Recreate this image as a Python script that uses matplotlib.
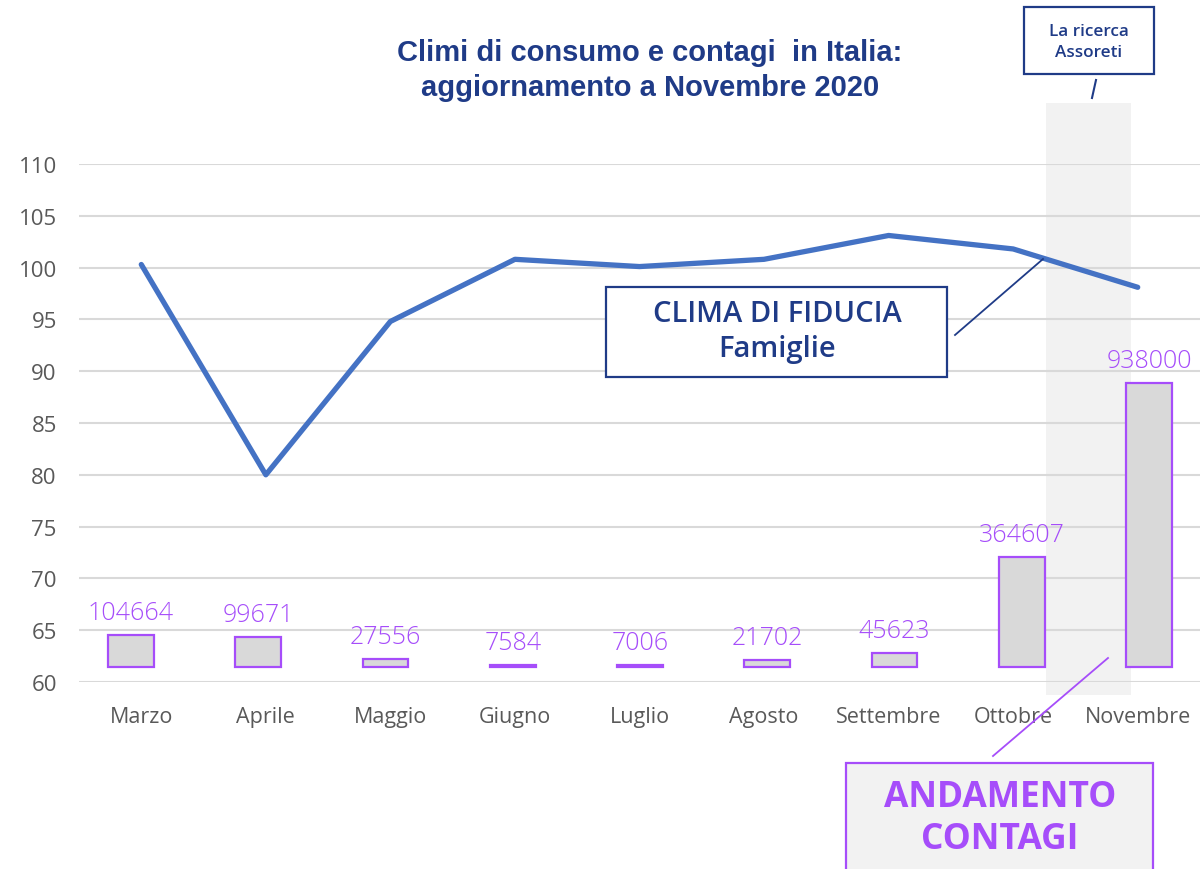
import matplotlib
matplotlib.use('Agg')
import matplotlib.pyplot as plt
from matplotlib.patches import Rectangle
from matplotlib.lines import Line2D
import matplotlib.transforms as mtransforms

# ---- data ----
months = ['Marzo', 'Aprile', 'Maggio', 'Giugno', 'Luglio', 'Agosto',
          'Settembre', 'Ottobre', 'Novembre']
fiducia = [100.3, 80.0, 94.8, 100.8, 100.1, 100.8, 103.1, 101.8, 98.1]
contagi = [104664, 99671, 27556, 7584, 7006, 21702, 45623, 364607, 938000]
y_ticks = [60, 65, 70, 75, 80, 85, 90, 95, 100, 105, 110]

title_lines = ['Climi di consumo e contagi  in Italia:', 'aggiornamento a Novembre 2020']

# ---- styles ----
W, H = 1203, 870
dark_blue = '#1F3B87'
line_blue = '#4472C4'
purple = '#A64DFA'
grey_txt = '#595959'
grid_c = '#D9D9D9'
font = 'Open Sans'

fig = plt.figure(figsize=(W / 100, H / 100), dpi=100)
px = mtransforms.Affine2D().scale(1 / W, -1 / H).translate(0, 1) + fig.transFigure

# background band behind Novembre
fig.patches.append(Rectangle((1046, 104), 85, 592, transform=px,
                             facecolor='#F2F2F2', edgecolor='none', zorder=-1))

left, right, top, bottom = 79, 1200, 165, 683
pos = [left / W, 1 - bottom / H, (right - left) / W, (bottom - top) / H]

ax = fig.add_axes(pos)
ax.set_facecolor('none')
x = list(range(len(months)))
ax.plot(x, fiducia, color=line_blue, lw=3.8, solid_capstyle='round',
        solid_joinstyle='round', zorder=3)
ax.set_xlim(-0.5, len(months) - 0.5)
ax.set_ylim(60, 110)
ax.set_yticks(y_ticks)
ax.set_xticks(x)
ax.set_xticklabels(months)
ax.grid(axis='y', color=grid_c, lw=1.5)
ax.set_axisbelow(True)
for s in ax.spines.values():
    s.set_visible(False)
ax.tick_params(axis='both', length=0, colors=grey_txt)
ax.tick_params(axis='y', pad=16, labelsize=16)
ax.tick_params(axis='x', pad=17, labelsize=15.5)
for lab in ax.get_xticklabels() + ax.get_yticklabels():
    lab.set_fontfamily('Open Sans')

# bars on overlay axes
ax2 = fig.add_axes(pos)
ax2.set_facecolor('none')
ax2.axis('off')
ax2.set_xlim(-0.4086, 8.4008)
ax2.set_ylim(-49544, 1661357)
ax2.bar(x, contagi, width=0.36, color='#D9D9D9', edgecolor=purple, linewidth=1.6)
for i, v in enumerate(contagi):
    ax2.annotate(f'{v}', (i, v), xytext=(0, 11.5), textcoords='offset points',
                 ha='center', va='baseline', color=purple, fontsize=18,
                 fontfamily=font, fontweight='light')

# title
fig.text(650 / W, 1 - 53 / H, title_lines[0], ha='center', va='center',
         fontsize=21, fontweight='bold', color=dark_blue, fontfamily='Liberation Sans')
fig.text(650 / W, 1 - 88 / H, title_lines[1], ha='center', va='center',
         fontsize=21, fontweight='bold', color=dark_blue, fontfamily='Liberation Sans')

# La ricerca Assoreti box
fig.patches.append(Rectangle((1024, 8), 130, 67, transform=px, facecolor='white',
                             edgecolor=dark_blue, lw=1.6))
fig.text(1089 / W, 1 - 32 / H, 'La ricerca', ha='center', va='center',
         fontsize=12.3, color=dark_blue, fontfamily=font, fontweight='semibold')
fig.text(1089 / W, 1 - 53 / H, 'Assoreti', ha='center', va='center',
         fontsize=12.3, color=dark_blue, fontfamily=font, fontweight='semibold')
fig.lines.append(Line2D([1096, 1092], [81, 99], transform=px, color=dark_blue, lw=1.5))

# CLIMA DI FIDUCIA box
fig.patches.append(Rectangle((606, 288), 341, 90, transform=px, facecolor='white',
                             edgecolor=dark_blue, lw=1.6, zorder=5))
fig.text(777 / W, 1 - 315 / H, 'CLIMA DI FIDUCIA', ha='center', va='center',
         fontsize=21, color=dark_blue, fontfamily=font, fontweight='semibold', zorder=6)
fig.text(777 / W, 1 - 349 / H, 'Famiglie', ha='center', va='center',
         fontsize=21, color=dark_blue, fontfamily=font, fontweight='semibold', zorder=6)
fig.lines.append(Line2D([955, 1043], [336, 260], transform=px, color=dark_blue, lw=1.3, zorder=6))

# ANDAMENTO CONTAGI box
fig.patches.append(Rectangle((846, 764), 307, 130, transform=px, facecolor='#F2F2F2',
                             edgecolor=purple, lw=1.6, zorder=5))
fig.text(1000 / W, 1 - 798 / H, 'ANDAMENTO', ha='center', va='center',
         fontsize=25.5, color=purple, fontfamily=font, fontweight='bold', zorder=6)
fig.text(1000 / W, 1 - 840 / H, 'CONTAGI', ha='center', va='center',
         fontsize=25.5, color=purple, fontfamily=font, fontweight='bold', zorder=6)
fig.lines.append(Line2D([993, 1108], [757, 659], transform=px, color=purple, lw=1.3, zorder=6))

fig.savefig('out.png', dpi=100)
